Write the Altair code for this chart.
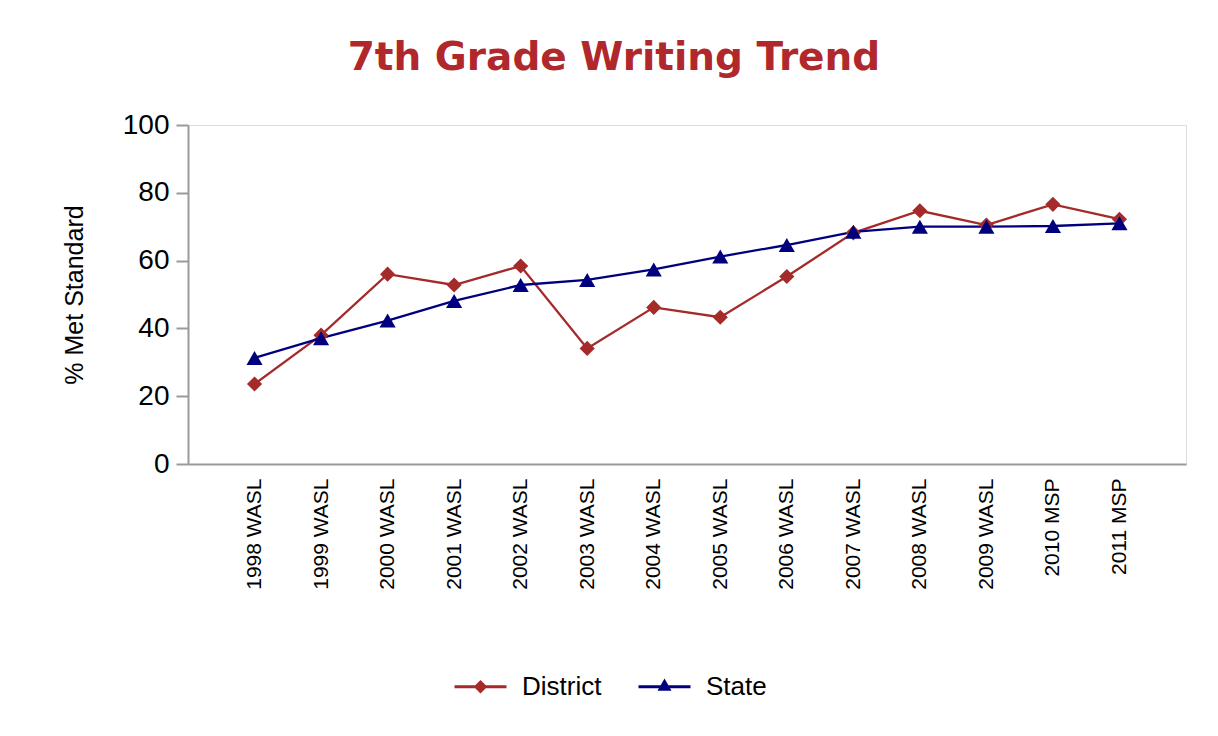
import altair as alt
import pandas as pd

categories = ["1998 WASL", "1999 WASL", "2000 WASL", "2001 WASL", "2002 WASL",
              "2003 WASL", "2004 WASL", "2005 WASL", "2006 WASL", "2007 WASL",
              "2008 WASL", "2009 WASL", "2010 MSP", "2011 MSP"]
district = [23.6, 38.0, 56.0, 52.8, 58.4, 34.1, 46.2, 43.3, 55.3, 68.2, 74.7, 70.5, 76.6, 72.2]
state = [31.3, 37.1, 42.3, 48.1, 52.8, 54.3, 57.4, 61.2, 64.6, 68.5, 70.0, 70.0, 70.2, 71.0]
series_names = ["District", "State"]
series_colors = ["#A52A2A", "#00007F"]
legend_paths = [
    "M-1,0L1,0M-0.18,0L0,-0.18L0.18,0L0,0.18Z",
    "M-1,0L1,0M0,-0.2L0.17,0.1L-0.17,0.1Z",
]

rows = []
for c, d, s in zip(categories, district, state):
    rows.append({"test": c, "series": "District", "value": d})
    rows.append({"test": c, "series": "State", "value": s})
df = pd.DataFrame(rows)

x_enc = alt.X("test:N", sort=categories,
              scale=alt.Scale(type="point", domain=categories, padding=1),
              axis=alt.Axis(title=None, labelAngle=-90, labelFontSize=21,
                            labelFont="Liberation Sans", labelColor="#000000",
                            labelPadding=14, ticks=False, domainColor="#9a9a9a",
                            domainWidth=2))
y_enc = alt.Y("value:Q",
              scale=alt.Scale(domain=[0, 100], nice=False),
              axis=alt.Axis(title="% Met Standard", values=[0, 20, 40, 60, 80, 100],
                            grid=False, labelFontSize=28, labelFont="Liberation Sans",
                            labelColor="#000000", tickColor="#9a9a9a", tickSize=12,
                            tickWidth=2, labelPadding=7, domainColor="#9a9a9a",
                            domainWidth=2, titleFont="Liberation Sans",
                            titleFontSize=25, titleFontWeight="normal",
                            titleColor="#000000", titlePadding=35))
color_scale = alt.Scale(domain=series_names, range=series_colors)

shape_expr = "datum.value === '%s' ? '%s' : '%s'" % (series_names[1], legend_paths[1],
                                                     legend_paths[0])
fill_expr = "scale('color', datum.value)"

base = alt.Chart(df)

lines = base.mark_line(strokeWidth=2.3).encode(
    x=x_enc, y=y_enc,
    color=alt.Color("series:N", scale=color_scale,
                    legend=alt.Legend(title=None, orient="none", legendX=265, legendY=534,
                                      direction="horizontal",
                                      symbolType=alt.ExprRef(shape_expr),
                                      symbolFillColor=alt.ExprRef(fill_expr),
                                      symbolSize=2704, symbolStrokeWidth=3,
                                      labelFontSize=26, labelFont="Liberation Sans",
                                      labelColor="#000000", labelOffset=14,
                                      columnPadding=30, padding=0)),
)

pts_d = base.transform_filter(alt.datum.series == "District").mark_point(
    shape="diamond", filled=True, size=230, opacity=1).encode(
    x=x_enc, y=y_enc,
    color=alt.Color("series:N", scale=color_scale, legend=None),
)

pts_s = base.transform_filter(alt.datum.series == "State").mark_point(
    shape="triangle-up", filled=True, size=260, opacity=1).encode(
    x=x_enc, y=y_enc,
    color=alt.Color("series:N", scale=color_scale, legend=None),
)

chart = alt.layer(lines, pts_d, pts_s).properties(
    width=998, height=339,
    autosize=alt.AutoSizeParams(type="none"),
    padding={"left": 180, "top": 117, "right": 16, "bottom": 250},
    title=alt.TitleParams(text="7th Grade Writing Trend", font="DejaVu Sans",
                          fontSize=39, fontWeight="bold", color="#B0282C",
                          anchor="middle", frame="group", dx=-73, offset=2,
                          baseline="alphabetic"),
).configure_view(
    stroke="#9a9a9a", strokeWidth=2
).configure(background="#ffffff")

chart.save("out.html", embed_options={"renderer": "svg", "actions": False})
